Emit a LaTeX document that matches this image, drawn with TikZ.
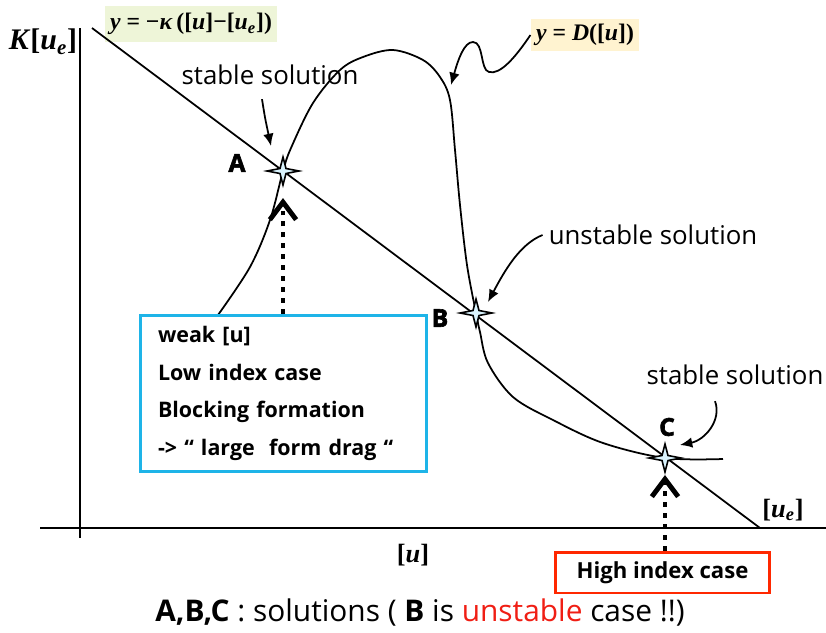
\documentclass[tikz,border=0pt]{standalone}
\usepackage{fontspec}
\setmainfont{Open Sans}
\newfontfamily\timesfont{Liberation Serif}
\newfontfamily\heavysans{Open Sans}[BoldFeatures={FakeBold=2.5}]
\usepackage{tikz}
\usetikzlibrary{arrows.meta,calc}

\definecolor{kappabg}{RGB}{238,245,216}
\definecolor{dragbg}{RGB}{255,243,208}
\definecolor{lowblue}{RGB}{30,180,232}
\definecolor{highred}{RGB}{255,40,0}
\definecolor{unstred}{RGB}{240,30,20}

\tikzset{thin line/.style={line width=1pt}}
\tikzset{sol/.style={font=\fontsize{14.7}{17}\selectfont}}
\tikzset{ptlabel/.style={font=\fontsize{14}{16}\selectfont\heavysans\bfseries}}
\tikzset{mathlabel/.style={font=\fontsize{13.5}{15}\selectfont\timesfont\bfseries, inner sep=3pt}}
\tikzset{arr/.style={line width=1pt, -{Latex[length=7pt,width=6pt]}}}
\tikzset{dotarr/.style={line width=2.8pt, dash pattern=on 2.8pt off 3.4pt,
  -{Straight Barb[length=10pt,width=15pt]}}}
\tikzset{sparkle/.pic={
  \filldraw[fill=cyan!15, line width=0.9pt] (-16,0) -- (-3,-2.5) -- (0,-14) -- (3,-2.5)
    -- (16,0) -- (3,2.5) -- (0,14) -- (-3,2.5) -- cycle;}}

\begin{document}
\begin{tikzpicture}[x=0.02cm, y=0.02cm]
\useasboundingbox (0,0) rectangle (826,-633);

% axes
\draw[thin line] (80,-28) -- (80,-538);
\draw[thin line] (40,-528) -- (826,-528);
\node [mathlabel, font=\fontsize{17}{19}\selectfont\timesfont\bfseries] (kue) at (43,-42)
  {\textit{K}[\textit{u\textsubscript{e}}]};
\node [mathlabel, font=\fontsize{15}{17}\selectfont\timesfont\bfseries] (uaxis) at (413,-555)
  {[\textit{u}]};
\node [mathlabel, font=\fontsize{15}{17}\selectfont\timesfont\bfseries] (ueaxis) at (783,-510)
  {[\textit{u\textsubscript{e}}]};

% the two labels of the curves
\node [mathlabel, fill=kappabg, minimum width=3.34cm, minimum height=0.72cm] (klabel)
  at (191,-24) {\textit{y} = −\textit{κ}\,([\textit{u}]−[\textit{u\textsubscript{e}}])};
\node [mathlabel, fill=dragbg, minimum width=2.06cm, minimum height=0.62cm] (dlabel)
  at (585,-35) {\textit{y} = \textit{D}([\textit{u}])};

% straight line and the D curve
\coordinate (lstart) at (92,-28);
\coordinate (lend) at (760,-528);
\draw[thin line] (lstart) -- (lend);
\draw[thin line] plot[smooth, tension=0.55] coordinates {(218,-315) (250,-267) (270,-220)
  (283,-171) (291,-148) (313,-103) (340,-70) (363,-57) (393,-50) (423,-60) (440,-77)
  (450,-100) (455,-150) (460,-205) (467,-265) (476,-313) (480,-332) (488,-363) (513,-397)
  (553,-420) (603,-443) (665,-458) (723,-459)};

\draw[arr] (dlabel.west) .. controls (515,-58) and (500,-75) .. (489,-72)
  .. controls (480,-70) and (484,-42) .. (473,-42)
  .. controls (464,-42) and (458,-60) .. (451,-85);

% solutions
\coordinate (A) at (283,-171);
\coordinate (B) at (476,-313);
\coordinate (C) at (665,-458);
\node [ptlabel] (Alab) at (237,-163) {A};
\node [ptlabel] (Blab) at (440,-318) {B};
\node [ptlabel] (Clab) at (667,-427) {C};

\node [sol] (stab1) at (270,-75) {stable solution};
\node [sol] (unst) at (653,-235) {unstable solution};
\node [sol] (stab2) at (735,-375) {stable solution};
\draw[arr] ($(stab1.south)+(-8,-8)$) .. controls (265,-118) .. (271,-146);
\draw[arr] (unst.west) .. controls (520,-244) and (505,-270) .. (488,-302);
\draw[arr] ($(stab2.south)+(-20,-10)$) .. controls (722,-420) and (705,-440) .. (680,-445);

% boxes
\node [draw=lowblue, line width=1.7pt, fill=white, text width=5.02cm, inner xsep=0.36cm,
  minimum height=3.14cm, align=left, font=\fontsize{12.2}{21.3}\selectfont\bfseries]
  (lowbox) at (283.5,-393.5)
  {weak [u]\\ Low index case\\ Blocking formation\\ -> “ large\ \ form drag “};
\node [draw=highred, line width=1.7pt, minimum width=4.3cm, minimum height=0.82cm,
  font=\fontsize{12.6}{15}\selectfont\bfseries] (hibox) at (662.5,-572.5) {High index case};

\draw[dotarr] (lowbox.north -| A) -- ($(A)+(0,-27)$);
\draw[dotarr] (hibox.north -| C) -- ($(C)+(0,-17)$);

\pic at (A) {sparkle};
\pic at (B) {sparkle};
\pic at (C) {sparkle};

\node [font=\fontsize{17}{20}\selectfont] (caption) at (420,-613)
  {\textbf{A,B,C} : solutions ( \textbf{B} is \textcolor{unstred}{unstable} case !!)};

\end{tikzpicture}
\end{document}
